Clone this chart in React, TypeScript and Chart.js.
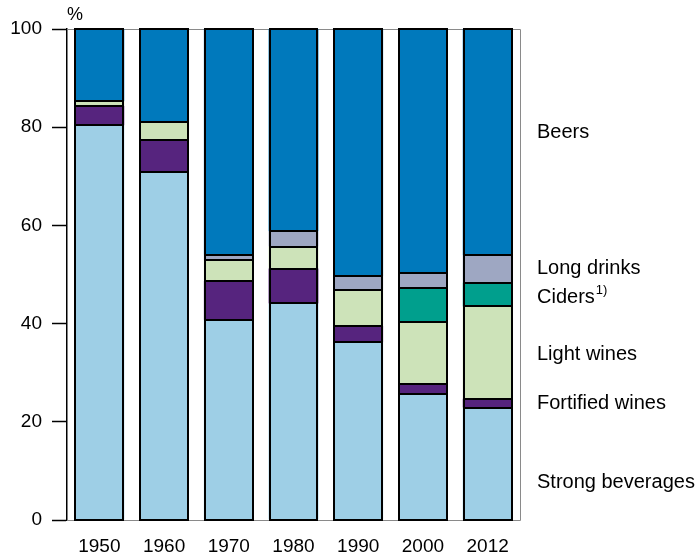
import React, { useEffect, useRef } from "react";
import { Chart, registerables } from "chart.js";

Chart.register(...registerables);

const years = ["1950", "1960", "1970", "1980", "1990", "2000", "2012"];
const strongBeverages = [80.4, 70.8, 40.8, 44.1, 36.2, 25.7, 22.9];
const fortifiedWines = [3.9, 6.6, 7.9, 7.1, 3.3, 2.1, 1.8];
const lightWines = [1.0, 3.6, 4.2, 4.5, 7.4, 12.5, 18.8];
const ciders = [null, null, null, null, null, 6.9, 4.8];
const longDrinks = [null, null, 1.1, 3.1, 2.8, 3.1, 5.6];
const beers = [14.7, 19.0, 46.0, 41.2, 50.3, 49.7, 46.1];

const yTicks = [0, 20, 40, 60, 80, 100];

// right-hand labels and the value (in %) where each is anchored
const seriesLabels = ["Beers", "Long drinks", "Ciders", "Light wines", "Fortified wines", "Strong beverages"];
const labelAnchors = [79.0, 51.2, 45.3, 33.7, 23.7, 7.6];

const FONT = "'Liberation Sans', Arial, Helvetica, sans-serif";

const framePlugin = {
  id: "frameAndLabels",
  beforeDatasetsDraw(chart: any) {
    const { ctx, chartArea } = chart;
    ctx.save();
    ctx.strokeStyle = "#8a8a8a";
    ctx.lineWidth = 1;
    ctx.beginPath();
    ctx.moveTo(chartArea.left, chartArea.top + 0.5);
    ctx.lineTo(chartArea.right + 0.5, chartArea.top + 0.5);
    ctx.lineTo(chartArea.right + 0.5, chartArea.bottom + 0.5);
    ctx.lineTo(chartArea.left, chartArea.bottom + 0.5);
    ctx.stroke();
    ctx.restore();
  },
  afterDatasetsDraw(chart: any) {
    const { ctx } = chart;
    ctx.save();
    ctx.strokeStyle = "#000";
    ctx.lineWidth = 2;
    chart.data.datasets.forEach((ds: any, di: number) => {
      const meta = chart.getDatasetMeta(di);
      meta.data.forEach((el: any, i: number) => {
        if (ds.data[i] == null) return;
        const { x, y, base, width } = el.getProps(["x", "y", "base", "width"], true);
        const l = Math.round(x - width / 2) + 1;
        const r = Math.round(x + width / 2) - 1;
        const t = Math.round(Math.min(y, base));
        const b = Math.round(Math.max(y, base));
        ctx.strokeRect(l, t, r - l, b - t);
      });
    });
    ctx.restore();
  },
  afterDraw(chart: any) {
    const { ctx, chartArea, scales } = chart;
    ctx.save();
    ctx.fillStyle = "#000";
    ctx.textBaseline = "middle";
    ctx.textAlign = "left";
    const x = chartArea.right + 17;
    seriesLabels.forEach((txt, i) => {
      const y = scales.y.getPixelForValue(labelAnchors[i]);
      ctx.font = `20px ${FONT}`;
      ctx.fillText(txt, x, y);
      if (txt === "Ciders") {
        const w = ctx.measureText(txt).width;
        ctx.font = `13px ${FONT}`;
        ctx.fillText("1)", x + w + 1, y - 7);
      }
    });
    ctx.font = `18px ${FONT}`;
    ctx.textAlign = "center";
    ctx.fillText("%", chartArea.left + 8, chartArea.top - 14);
    ctx.restore();
  },
};

export default function App() {
  const ref = useRef<HTMLCanvasElement | null>(null);
  useEffect(() => {
    if (!ref.current) return;
    const mk = (label: string, data: (number | null)[], color: string) => ({
      label,
      data,
      backgroundColor: color,
      borderWidth: 0,
      inflateAmount: 0,
    });
    const chart = new Chart(ref.current, {
      type: "bar",
      data: {
        labels: years,
        datasets: [
          mk("Strong beverages", strongBeverages, "#9ecfe6"),
          mk("Fortified wines", fortifiedWines, "#56247e"),
          mk("Light wines", lightWines, "#cde3b9"),
          mk("Ciders", ciders as any, "#009f8d"),
          mk("Long drinks", longDrinks as any, "#9ea7c2"),
          mk("Beers", beers, "#0079bc"),
        ] as any,
      },
      plugins: [framePlugin],
      options: {
        animation: false,
        responsive: true,
        maintainAspectRatio: false,
        layout: { padding: { top: 29, right: 180, left: 0, bottom: 0 } },
        datasets: { bar: { barPercentage: 0.77, categoryPercentage: 1 } },
        plugins: { legend: { display: false }, tooltip: { enabled: false } },
        scales: {
          x: {
            stacked: true,
            grid: { display: false, drawTicks: false },
            border: { display: false },
            ticks: { color: "#000", font: { family: FONT, size: 19 }, padding: 15, maxRotation: 0 },
            afterFit: (s: any) => {
              s.height = 37;
            },
          },
          y: {
            stacked: true,
            min: 0,
            max: 100,
            afterBuildTicks: (s: any) => {
              s.ticks = yTicks.map((v) => ({ value: v }));
            },
            grid: { drawOnChartArea: false, color: "#000", tickLength: 15, tickWidth: 1.5 },
            border: { display: true, color: "#000", width: 1.5 },
            ticks: { color: "#000", font: { family: FONT, size: 19 }, padding: 10 },
            afterFit: (s: any) => {
              s.width = 67;
            },
          },
        },
      } as any,
    });
    return () => chart.destroy();
  }, []);
  return (
    <div style={{ position: "absolute", left: 0, top: 0, width: 700, height: 557 }}>
      <canvas ref={ref} />
    </div>
  );
}
